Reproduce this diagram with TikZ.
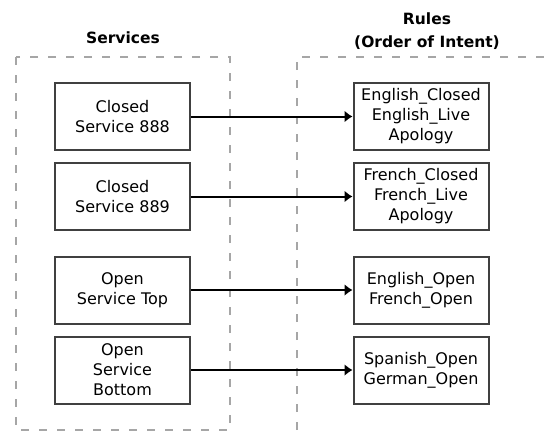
\documentclass[tikz,border=0pt]{standalone}
\usepackage{fontspec}
\setmainfont{DejaVu Sans}
\usepackage{tikz}
\usetikzlibrary{arrows.meta, positioning}
\usepackage{xcolor}
\definecolor{boxedge}{HTML}{404040}
\definecolor{frameedge}{HTML}{A6A6A6}

\begin{document}
\begin{tikzpicture}[x=1pt, y=1pt,
    svcnode/.style={draw=boxedge, line width=2pt, minimum width=135pt, minimum height=67pt,
                 align=center, inner sep=1pt, font=\fontsize{16}{20}\selectfont},
    headnode/.style={align=center, font=\fontsize{15.5}{23}\selectfont\bfseries},
    framedash/.style={draw=frameedge, line width=1.6pt, dash pattern=on 8pt off 10pt},
    linkarrow/.style={-{Latex[length=8pt, width=12pt]}, line width=2pt, black},
  ]
    \useasboundingbox (0,0) rectangle (545,-431);
    % group frames
    \draw[framedash] (16,-57) rectangle (230,-430);
    \draw[framedash] (297,-430) -- (297,-57) -- (545,-57);
    % headings
    \node[headnode] (svchead) at (123,-38) {Services};
    \node[headnode] (rulehead) at (427,-31) {Rules\\(Order of Intent)};
    % services
    \node[svcnode] (s888) at (122.5,-116.5) {Closed\\Service 888};
    \node[svcnode] (s889) at (122.5,-196.5) {Closed\\Service 889};
    \node[svcnode] (stop) at (122.5,-290) {Open\\Service Top};
    \node[svcnode] (sbot) at (122.5,-370) {Open\\Service\\Bottom};
    % rules
    \node[svcnode] (r888) at (421,-116.5) {English\_Closed\\English\_Live\\Apology};
    \node[svcnode] (r889) at (421,-196.5) {French\_Closed\\French\_Live\\Apology};
    \node[svcnode] (rtop) at (421,-290) {English\_Open\\French\_Open};
    \node[svcnode] (rbot) at (421,-370) {Spanish\_Open\\German\_Open};
    \draw[linkarrow] (s888) -- (r888);
    \draw[linkarrow] (s889) -- (r889);
    \draw[linkarrow] (stop) -- (rtop);
    \draw[linkarrow] (sbot) -- (rbot);
  \end{tikzpicture}
\end{document}
